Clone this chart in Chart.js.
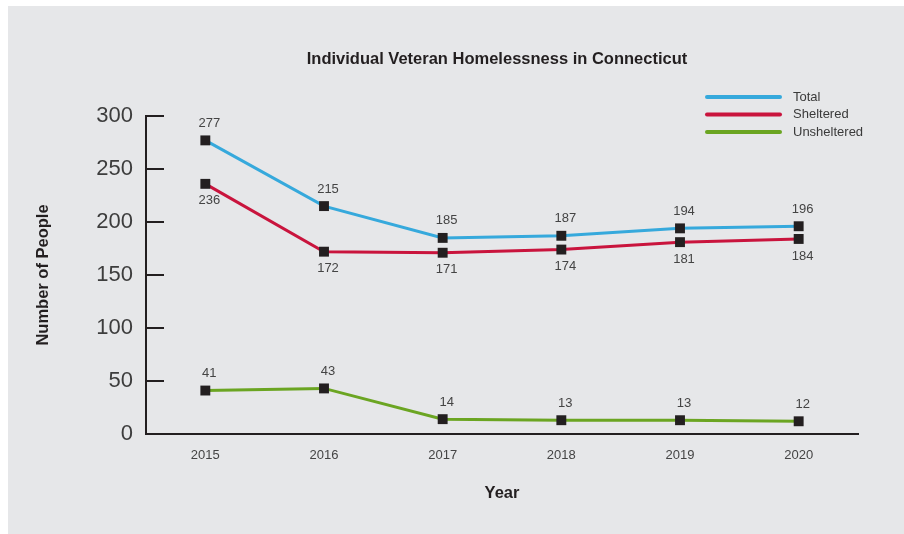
<!DOCTYPE html>
<html>
<head>
<meta charset="utf-8">
<script src="https://cdn.jsdelivr.net/npm/chart.js@4.4.0/dist/chart.umd.min.js"></script>
<style>
  html, body { margin: 0; padding: 0; background: #fff; }
  #wrap { width: 904px; height: 534px; }
</style>
</head>
<body>
<div id="wrap"><canvas id="vetChart" width="904" height="534"></canvas></div>
<script>
// data
var years = ["2015", "2016", "2017", "2018", "2019", "2020"];
var total = [277, 215, 185, 187, 194, 196];
var sheltered = [236, 172, 171, 174, 181, 184];
var unsheltered = [41, 43, 14, 13, 13, 12];
var yTicks = [0, 50, 100, 150, 200, 250, 300];
var chartTitle = 'Individual Veteran Homelessness in Connecticut';

var FONT = '"Liberation Sans", Arial, Helvetica, sans-serif';
var INK = '#231f20';

// grey panel behind everything
var panelBg = {
    id: 'panelBg',
    beforeDraw: function(chart) {
        var ctx = chart.ctx;
        ctx.save();
        ctx.fillStyle = '#ffffff';
        ctx.fillRect(0, 0, chart.width, chart.height);
        ctx.fillStyle = '#e6e7e9';
        ctx.fillRect(8, 6, chart.width - 8, chart.height - 6);
        ctx.restore();
    }
};

// title, a bit left of the plot centre like the original
var topTitle = {
    id: 'topTitle',
    afterDraw: function(chart) {
        var ctx = chart.ctx;
        ctx.save();
        ctx.font = 'bold 16.5px ' + FONT;
        ctx.fillStyle = INK;
        ctx.textAlign = 'center';
        ctx.textBaseline = 'middle';
        ctx.fillText(chartTitle, 497, 59);
        ctx.restore();
    }
};

// short tick marks pointing into the plot
var innerTicks = {
    id: 'innerTicks',
    afterDraw: function(chart) {
        var ctx = chart.ctx, y = chart.scales.y, left = chart.chartArea.left;
        ctx.save();
        ctx.strokeStyle = INK;
        ctx.lineWidth = 2;
        yTicks.forEach(function(v) {
            var py = Math.round(y.getPixelForValue(v));
            ctx.beginPath();
            ctx.moveTo(left, py);
            ctx.lineTo(left + 18, py);
            ctx.stroke();
        });
        ctx.restore();
    }
};

// value labels next to the markers
var valueLabels = {
    id: 'valueLabels',
    afterDatasetsDraw: function(chart) {
        var ctx = chart.ctx;
        ctx.save();
        ctx.font = '13px ' + FONT;
        ctx.fillStyle = '#444';
        ctx.textAlign = 'center';
        ctx.textBaseline = 'middle';
        chart.data.datasets.forEach(function(ds, i) {
            var meta = chart.getDatasetMeta(i);
            meta.data.forEach(function(pt, j) {
                var dy = ds.labelSide === 'below' ? 17 : -17;
                ctx.fillText(ds.data[j], pt.x + 4, pt.y + dy);
            });
        });
        ctx.restore();
    }
};

// stacked legend in the top right corner
var sideLegend = {
    id: 'sideLegend',
    afterDraw: function(chart) {
        var ctx = chart.ctx;
        ctx.save();
        ctx.font = '13px ' + FONT;
        ctx.textBaseline = 'middle';
        ctx.lineCap = 'round';
        ctx.lineWidth = 4;
        chart.data.datasets.forEach(function(ds, i) {
            var y = 97 + i * 17.5;
            ctx.strokeStyle = ds.borderColor;
            ctx.beginPath();
            ctx.moveTo(707, y);
            ctx.lineTo(780, y);
            ctx.stroke();
            ctx.fillStyle = '#3a3a3a';
            ctx.fillText(ds.label, 793, y);
        });
        ctx.restore();
    }
};

function series(label, data, color, side) {
    return {
        label: label,
        data: data,
        borderColor: color,
        backgroundColor: color,
        borderWidth: 3,
        tension: 0,
        fill: false,
        pointStyle: 'rect',
        pointRadius: 7,
        pointHoverRadius: 7,
        pointBackgroundColor: INK,
        pointBorderWidth: 0,
        labelSide: side
    };
}

var ctx = document.getElementById('vetChart').getContext('2d');
var chart = new Chart(ctx, {
    type: 'line',
    data: {
        labels: years,
        datasets: [
            series('Total', total, '#36a9dc', 'above'),
            series('Sheltered', sheltered, '#c9143d', 'below'),
            series('Unsheltered', unsheltered, '#6ba522', 'above')
        ]
    },
    options: {
        responsive: false,
        animation: false,
        layout: { padding: { left: 0, right: 46, top: 116, bottom: 0 } },
        plugins: {
            legend: { display: false },
            tooltip: { enabled: false },
            title: { display: false }
        },
        scales: {
            x: {
                type: 'category',
                offset: true,
                grid: { display: false, drawTicks: false },
                border: { display: true, color: INK, width: 2 },
                ticks: { color: '#444', font: { family: FONT, size: 13 }, padding: 14 },
                title: {
                    display: true,
                    text: 'Year',
                    color: INK,
                    font: { family: FONT, size: 16.5, weight: 'bold' },
                    padding: { top: 0, bottom: 31 }
                },
                afterFit: function(scale) { scale.height = 100; }
            },
            y: {
                min: 0,
                max: 300,
                grid: { display: false, drawTicks: false },
                border: { display: true, color: INK, width: 2 },
                ticks: {
                    stepSize: 50,
                    color: '#3d3d3d',
                    font: { family: FONT, size: 22 },
                    padding: 13
                },
                title: {
                    display: true,
                    text: 'Number of People',
                    color: INK,
                    font: { family: FONT, size: 16.5, weight: 'bold' },
                    padding: { top: 34, bottom: 0 }
                },
                afterFit: function(scale) { scale.width = 146; }
            }
        }
    },
    plugins: [panelBg, topTitle, innerTicks, valueLabels, sideLegend]
});
</script>
</body>
</html>
